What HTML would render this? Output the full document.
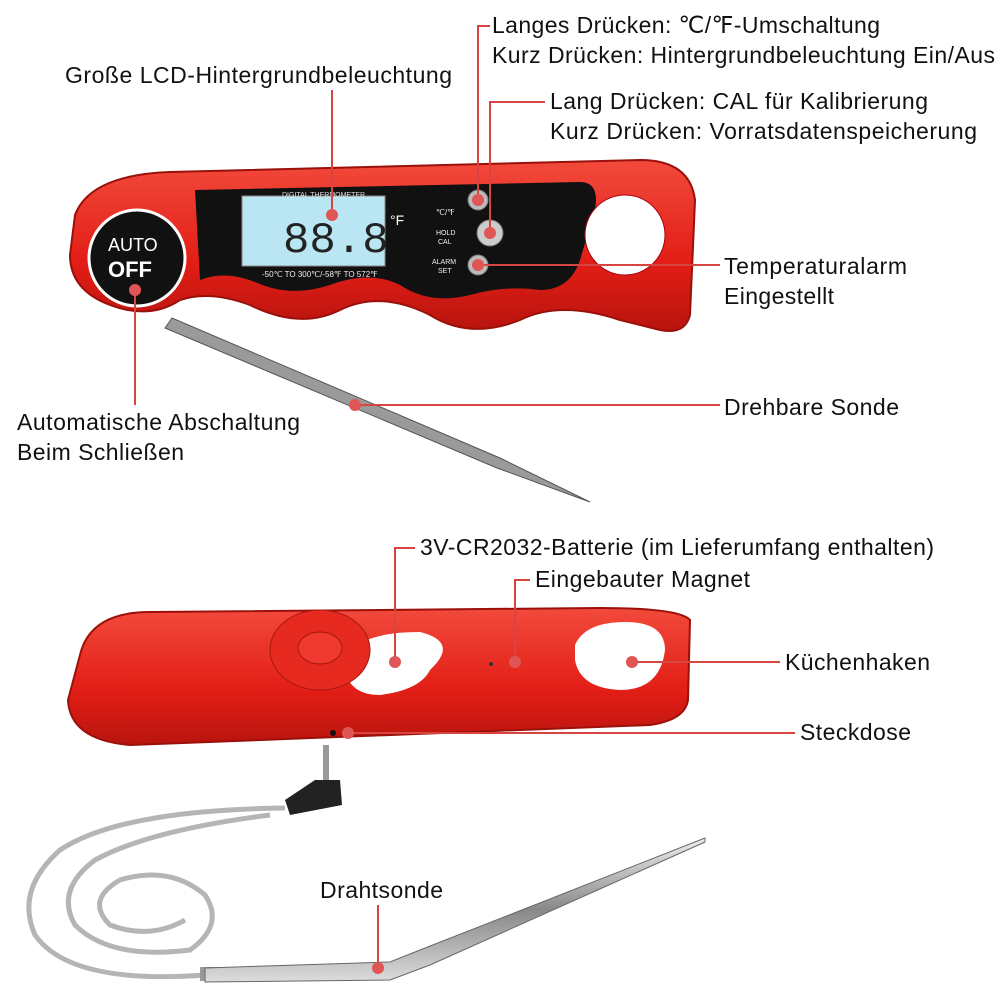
<!DOCTYPE html>
<html><head><meta charset="utf-8"><style>
html,body{margin:0;padding:0;background:#fff}
svg{display:block}
text{font-family:"Liberation Sans",sans-serif;font-size:23px;fill:#111}
</style></head><body>
<svg width="1000" height="1000" viewBox="0 0 1000 1000">
<defs>
<linearGradient id="steel" x1="0" y1="0" x2="0" y2="1"><stop offset="0" stop-color="#eee"/><stop offset=".5" stop-color="#888"/><stop offset="1" stop-color="#ddd"/></linearGradient>
<linearGradient id="red" x1="0" y1="0" x2="0" y2="1"><stop offset="0" stop-color="#f24a3c"/><stop offset=".6" stop-color="#e21e16"/><stop offset="1" stop-color="#b8140e"/></linearGradient>
</defs>
<polygon points="165,328 172,318 500,458 590,502 497,468" fill="#9a9a9a" stroke="#555" stroke-width="1"/>
<path d="M75,215 Q90,175 170,172 L640,160 Q690,160 695,200 L690,315 Q685,335 660,330 L620,320 Q560,300 520,320 Q470,340 430,315 Q380,290 340,310 Q300,330 250,305 Q210,290 180,300 Q150,320 110,305 Q70,290 70,255 Z" fill="url(#red)" stroke="#9a100a" stroke-width="2"/>
<path d="M195,190 L580,182 Q600,182 595,210 L580,260 Q570,290 540,290 Q505,285 470,295 Q430,305 400,285 Q370,270 330,285 Q290,298 255,282 Q225,270 200,280 Z" fill="#111"/>
<rect x="242" y="196" width="143" height="70" fill="#b9e6f2" stroke="#888"/>
<text x="283" y="252" style="font-size:44px;fill:#222;font-family:'Liberation Mono',monospace">88.8</text>
<text x="390" y="225" style="font-size:14px;fill:#fff">°F</text>
<text x="282" y="197" style="font-size:7px;fill:#ddd">DIGITAL THERMOMETER</text>
<text x="262" y="277" style="font-size:8px;fill:#eee">-50℃ TO 300℃/-58℉ TO 572℉</text>
<text x="436" y="215" style="font-size:8px;fill:#eee">℃/℉</text>
<text x="436" y="235" style="font-size:7px;fill:#eee">HOLD</text>
<text x="438" y="244" style="font-size:7px;fill:#eee">CAL</text>
<text x="432" y="264" style="font-size:7px;fill:#eee">ALARM</text>
<text x="438" y="273" style="font-size:7px;fill:#eee">SET</text>
<circle cx="478" cy="200" r="10" fill="#bbb" stroke="#777"/>
<circle cx="490" cy="233" r="13" fill="#ccc" stroke="#777"/>
<circle cx="478" cy="265" r="10" fill="#bbb" stroke="#777"/>
<circle cx="625" cy="235" r="40" fill="#fff" stroke="#a01"/>
<circle cx="137" cy="258" r="48" fill="#111" stroke="#fff" stroke-width="3"/>
<text x="108" y="251" style="font-size:18px;fill:#fff">AUTO</text>
<text x="108" y="277" style="font-size:22px;font-weight:bold;fill:#fff">OFF</text>
<line x1="180" y1="628" x2="290" y2="623" stroke="#888" stroke-width="3"/>
<path d="M80,655 Q90,612 150,612 L600,608 Q680,608 690,620 L688,700 Q685,720 650,725 L130,745 Q70,740 68,700 Z" fill="url(#red)" stroke="#9a100a" stroke-width="2"/>
<path d="M350,650 Q370,632 420,632 Q460,642 430,670 Q420,690 380,695 Q350,695 345,670 Z" fill="#fff"/>
<ellipse cx="320" cy="650" rx="50" ry="40" fill="#e62a20" stroke="#a81510"/>
<ellipse cx="320" cy="648" rx="22" ry="16" fill="#f03a30" stroke="#a81510"/>
<path d="M575,645 Q585,622 625,622 Q665,622 665,650 Q660,690 620,690 Q580,688 575,660 Z" fill="#fff"/>
<circle cx="491" cy="664" r="2" fill="#333"/>
<circle cx="333" cy="733" r="3" fill="#111"/>
<rect x="323" y="745" width="6" height="35" fill="#999"/>
<path d="M315,780 L340,780 L342,805 L290,815 L285,800 Z" fill="#222"/>
<g fill="none" stroke="#b5b5b5" stroke-width="5">
<path d="M285,808 Q120,810 60,850 Q15,890 35,935 Q70,985 205,975"/>
<path d="M270,815 Q150,830 95,860 Q55,890 75,925 Q110,960 190,950 Q225,925 205,895 Q170,865 120,880 Q85,900 110,925 Q150,940 185,920"/>
</g>
<rect x="200" y="967" width="30" height="14" fill="#999"/>
<polygon points="205,968 390,962 420,950 705,838 705,842 430,965 390,980 205,982" fill="url(#steel)" stroke="#666"/>
<g stroke="#d64540" stroke-width="2" fill="none">
<polyline points="332,215 332,90"/>
<polyline points="478,200 478,26 490,26"/>
<polyline points="490,233 490,102 545,102"/>
<polyline points="478,265 720,265"/>
<polyline points="135,290 135,405"/>
<polyline points="355,405 720,405"/>
<polyline points="395,662 395,548 415,548"/>
<polyline points="515,662 515,580 530,580"/>
<polyline points="632,662 780,662"/>
<polyline points="348,733 795,733"/>
<polyline points="378,968 378,905"/>
</g>
<g fill="#e05555">
<circle cx="332" cy="215" r="6"/><circle cx="478" cy="200" r="6"/><circle cx="490" cy="233" r="6"/>
<circle cx="478" cy="265" r="6"/><circle cx="135" cy="290" r="6"/><circle cx="355" cy="405" r="6"/>
<circle cx="395" cy="662" r="6"/><circle cx="515" cy="662" r="6"/><circle cx="632" cy="662" r="6"/>
<circle cx="348" cy="733" r="6"/><circle cx="378" cy="968" r="6"/>
</g>
<text x="65" y="83" textLength="387" lengthAdjust="spacing">Große LCD-Hintergrundbeleuchtung</text>
<text x="492" y="33" textLength="388" lengthAdjust="spacing">Langes Drücken: ℃/℉-Umschaltung</text>
<text x="492" y="63" textLength="503" lengthAdjust="spacing">Kurz Drücken: Hintergrundbeleuchtung Ein/Aus</text>
<text x="550" y="109" textLength="378" lengthAdjust="spacing">Lang Drücken: CAL für Kalibrierung</text>
<text x="550" y="139" textLength="427" lengthAdjust="spacing">Kurz Drücken: Vorratsdatenspeicherung</text>
<text x="724" y="274" textLength="183" lengthAdjust="spacing">Temperaturalarm</text>
<text x="724" y="304" textLength="110" lengthAdjust="spacing">Eingestellt</text>
<text x="724" y="415" textLength="175" lengthAdjust="spacing">Drehbare Sonde</text>
<text x="17" y="430" textLength="283" lengthAdjust="spacing">Automatische Abschaltung</text>
<text x="17" y="460" textLength="167" lengthAdjust="spacing">Beim Schließen</text>
<text x="420" y="555" textLength="514" lengthAdjust="spacing">3V-CR2032-Batterie (im Lieferumfang enthalten)</text>
<text x="535" y="587" textLength="215" lengthAdjust="spacing">Eingebauter Magnet</text>
<text x="785" y="670" textLength="145" lengthAdjust="spacing">Küchenhaken</text>
<text x="800" y="740" textLength="111" lengthAdjust="spacing">Steckdose</text>
<text x="320" y="898" textLength="123" lengthAdjust="spacing">Drahtsonde</text>
</svg>
</body></html>
